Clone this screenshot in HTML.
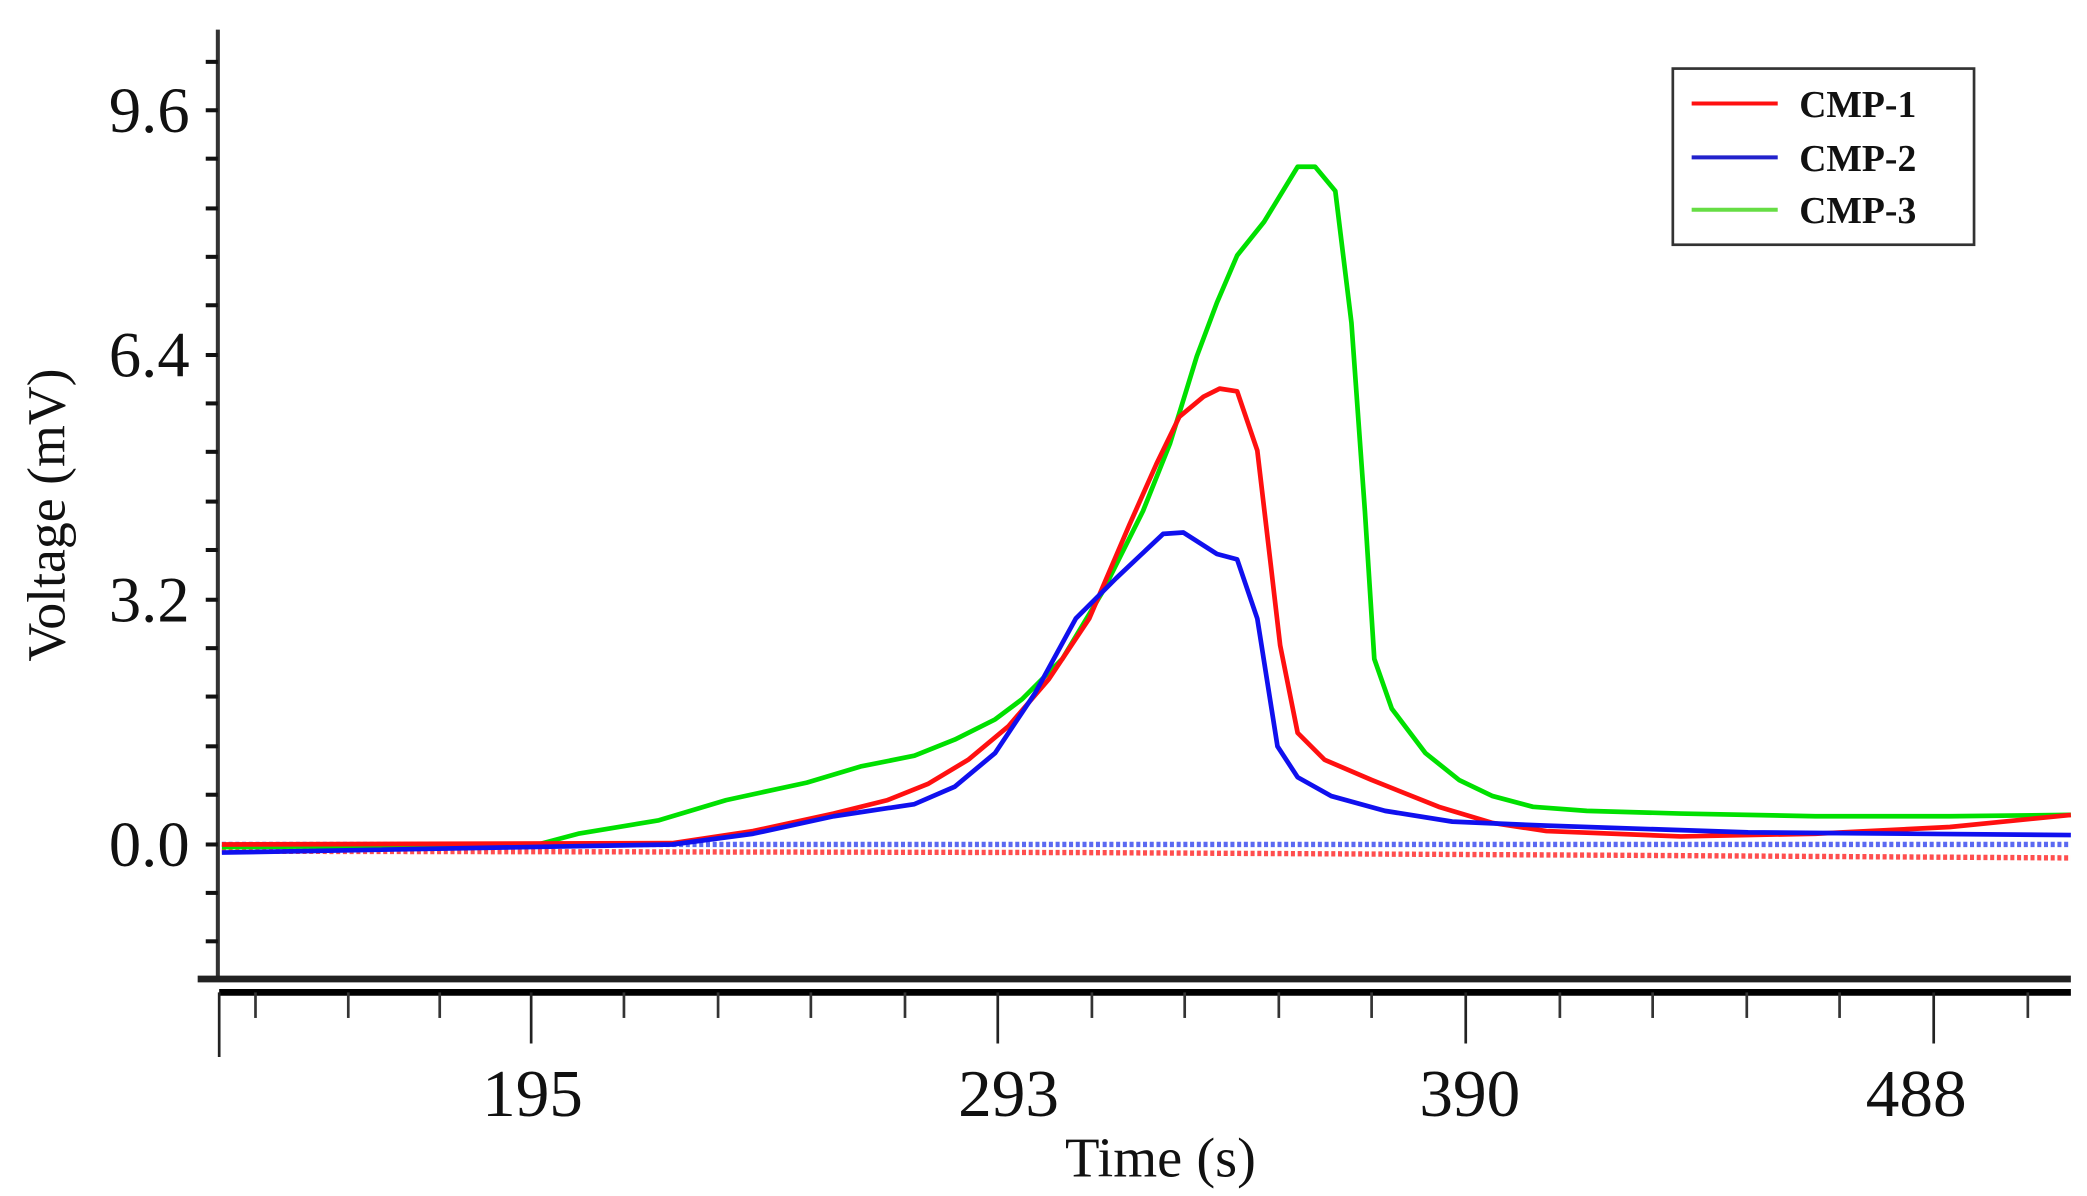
<!DOCTYPE html>
<html><head><meta charset="utf-8"><style>html,body{margin:0;padding:0;background:#fff}svg{display:block}</style></head>
<body>
<svg width="2087" height="1196" viewBox="0 0 1552 889.4" preserveAspectRatio="none" xmlns="http://www.w3.org/2000/svg">
<rect width="1552" height="889.4" fill="#fff"/>
<g font-family="Liberation Serif, serif" fill="#111">
<line x1="162" y1="22" x2="162" y2="730" stroke="#333" stroke-width="3"/>
<g stroke="#111" stroke-width="3">
<line x1="153" y1="46" x2="162" y2="46"/>
<line x1="153" y1="82" x2="162" y2="82"/>
<line x1="153" y1="118" x2="162" y2="118"/>
<line x1="153" y1="155" x2="162" y2="155"/>
<line x1="153" y1="191" x2="162" y2="191"/>
<line x1="153" y1="227" x2="162" y2="227"/>
<line x1="153" y1="264" x2="162" y2="264"/>
<line x1="153" y1="300" x2="162" y2="300"/>
<line x1="153" y1="336" x2="162" y2="336"/>
<line x1="153" y1="373" x2="162" y2="373"/>
<line x1="153" y1="409" x2="162" y2="409"/>
<line x1="153" y1="446" x2="162" y2="446"/>
<line x1="153" y1="482" x2="162" y2="482"/>
<line x1="153" y1="518" x2="162" y2="518"/>
<line x1="153" y1="555" x2="162" y2="555"/>
<line x1="153" y1="591" x2="162" y2="591"/>
<line x1="153" y1="628" x2="162" y2="628"/>
<line x1="153" y1="664" x2="162" y2="664"/>
<line x1="153" y1="700" x2="162" y2="700"/>
</g>
<g font-size="48" text-anchor="end">
<text x="141" y="98">9.6</text>
<text x="141" y="280">6.4</text>
<text x="141" y="462">3.2</text>
<text x="141" y="644">0.0</text>
</g>
<text transform="translate(48,383) rotate(-90)" font-size="40" text-anchor="middle">Voltage  (mV)</text>
<line x1="147" y1="728" x2="1540" y2="728" stroke="#222" stroke-width="5"/>
<line x1="163" y1="738" x2="1540" y2="738" stroke="#000" stroke-width="5"/>
<g stroke="#222" stroke-width="2">
<line x1="163" y1="738" x2="163" y2="786"/>
<line x1="395" y1="738" x2="395" y2="776"/>
<line x1="742" y1="738" x2="742" y2="776"/>
<line x1="1090" y1="738" x2="1090" y2="776"/>
<line x1="1438" y1="738" x2="1438" y2="776"/>
</g>
<g stroke="#333" stroke-width="2">
<line x1="190" y1="738" x2="190" y2="757"/><line x1="259" y1="738" x2="259" y2="757"/><line x1="327" y1="738" x2="327" y2="757"/>
<line x1="464" y1="738" x2="464" y2="757"/><line x1="534" y1="738" x2="534" y2="757"/><line x1="603" y1="738" x2="603" y2="757"/><line x1="673" y1="738" x2="673" y2="757"/>
<line x1="812" y1="738" x2="812" y2="757"/><line x1="881" y1="738" x2="881" y2="757"/><line x1="951" y1="738" x2="951" y2="757"/><line x1="1020" y1="738" x2="1020" y2="757"/>
<line x1="1160" y1="738" x2="1160" y2="757"/><line x1="1229" y1="738" x2="1229" y2="757"/><line x1="1299" y1="738" x2="1299" y2="757"/><line x1="1368" y1="738" x2="1368" y2="757"/>
<line x1="1508" y1="738" x2="1508" y2="757"/>
</g>
<g font-size="50" text-anchor="middle">
<text x="396" y="830">195</text>
<text x="750" y="830">293</text>
<text x="1093" y="830">390</text>
<text x="1425" y="830">488</text>
</g>
<text x="863" y="875" font-size="42" text-anchor="middle">Time (s)</text>
</g>
<line x1="165" y1="628" x2="1540" y2="628" stroke="#3344ee" stroke-width="4" stroke-dasharray="3,2" opacity="0.8"/>
<polyline points="165,633 800,634 1200,636 1540,638" fill="none" stroke="#ff2222" stroke-width="4" stroke-dasharray="3,2" opacity="0.8"/>
<polyline fill="none" stroke="#00e000" stroke-width="3.5" stroke-linejoin="round" points="165,630 400,628 430,620 490,610 540,595 600,582 640,570 680,562 710,550 740,535 760,520 790,490 820,440 850,380 870,330 890,265 905,225 920,190 940,165 965,124 978,124 993,142 1005,240 1015,380 1022,490 1035,527 1060,560 1085,580 1110,592 1140,600 1180,603 1250,605 1350,607 1450,607 1540,606"/>
<polyline fill="none" stroke="#ff1010" stroke-width="3.5" stroke-linejoin="round" points="165,628 500,627 560,618 620,605 660,595 690,583 720,565 750,540 780,505 810,460 840,390 860,345 877,310 895,295 907,289 920,291 935,335 945,420 952,480 965,545 985,565 1020,580 1070,600 1110,612 1150,618 1250,622 1350,620 1450,615 1540,606"/>
<polyline fill="none" stroke="#1010ee" stroke-width="3.5" stroke-linejoin="round" points="165,634 500,628 560,620 620,607 680,598 710,585 740,560 770,515 800,460 830,430 865,397 880,396 905,412 920,416 935,460 950,555 965,578 990,592 1030,603 1080,611 1150,614 1300,619 1540,621"/>
<rect x="1244" y="51" width="224" height="131" fill="#fff" stroke="#333" stroke-width="2"/>
<line x1="1258" y1="77" x2="1322" y2="77" stroke="#ff1010" stroke-width="3"/>
<line x1="1258" y1="117" x2="1322" y2="117" stroke="#2222cc" stroke-width="3"/>
<line x1="1258" y1="156" x2="1322" y2="156" stroke="#66dd44" stroke-width="3"/>
<g font-family="Liberation Serif, serif" font-weight="bold" font-size="28" fill="#111">
<text x="1338" y="87">CMP-1</text>
<text x="1338" y="127">CMP-2</text>
<text x="1338" y="166">CMP-3</text>
</g>
</svg>
</body></html>
